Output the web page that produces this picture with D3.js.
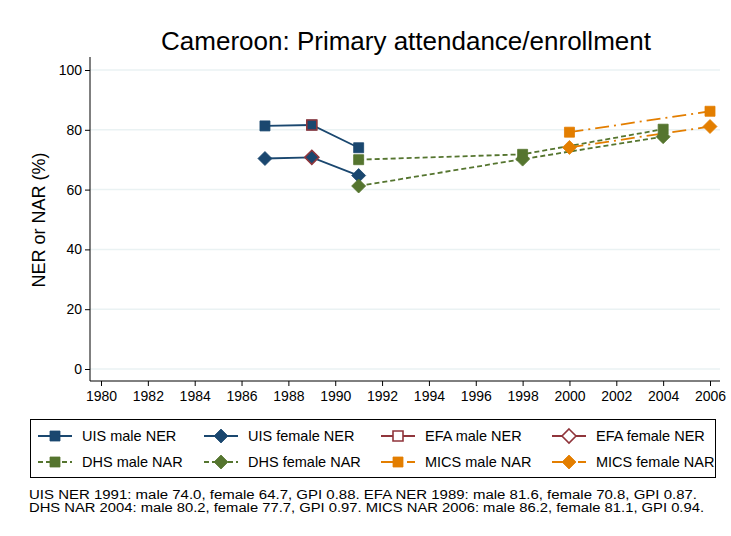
<!DOCTYPE html>
<html>
<head>
<meta charset="utf-8">
<script src="https://cdn.jsdelivr.net/npm/d3@7"></script>
<style>
  body { margin: 0; background: #fff; }
  svg { font-family: 'Liberation Sans', Arial, sans-serif; }
</style>
</head>
<body>
<script>
const years = [1980, 1982, 1984, 1986, 1988, 1990, 1992, 1994, 1996, 1998, 2000, 2002, 2004, 2006];
const yTicks = [0, 20, 40, 60, 80, 100];

// series values
const uisMale = [[1987, 81.3], [1989, 81.6], [1991, 74.0]];
const uisFemale = [[1987, 70.4], [1989, 70.8], [1991, 64.7]];
const efaMale = [[1989, 81.6]];
const efaFemale = [[1989, 70.8]];
const dhsMale = [[1991, 70.0], [1998, 71.8], [2004, 80.2]];
const dhsFemale = [[1991, 61.2], [1998, 70.2], [2004, 77.7]];
const micsMale = [[2000, 79.2], [2006, 86.2]];
const micsFemale = [[2000, 74.1], [2006, 81.1]];

const notes = [
  'UIS NER 1991: male 74.0, female 64.7, GPI 0.88. EFA NER 1989: male 81.6, female 70.8, GPI 0.87.',
  'DHS NAR 2004: male 80.2, female 77.7, GPI 0.97. MICS NAR 2006: male 86.2, female 81.1, GPI 0.94.',
];

const navy = '#1a476f';
const maroon = '#90353b';
const green = '#55752f';
const orange = '#e37e00';

const series = [
  { name: 'UIS male NER', data: uisMale, color: navy, dash: null, shape: 'square', hollow: false },
  { name: 'UIS female NER', data: uisFemale, color: navy, dash: null, shape: 'diamond', hollow: false },
  { name: 'EFA male NER', data: efaMale, color: maroon, dash: '12,4,2,4', shape: 'square', hollow: true },
  { name: 'EFA female NER', data: efaFemale, color: maroon, dash: '12,4,2,4', shape: 'diamond', hollow: true },
  { name: 'DHS male NAR', data: dhsMale, color: green, dash: '5,3', shape: 'square', hollow: false },
  { name: 'DHS female NAR', data: dhsFemale, color: green, dash: '5,3', shape: 'diamond', hollow: false },
  { name: 'MICS male NAR', data: micsMale, color: orange, dash: '14,5,2,5', shape: 'square', hollow: false },
  { name: 'MICS female NAR', data: micsFemale, color: orange, dash: '14,5,2,5', shape: 'diamond', hollow: false },
];

const W = 731, H = 536;
const plot = { left: 90, right: 720, top: 57, bottom: 381 };

const svg = d3.select('body').append('svg').attr('width', W).attr('height', H);

const x = d3.scaleLinear().domain([1980, 2006]).range([101, 710]);
const y = d3.scaleLinear().domain([0, 100]).range([369, 70]);

// title
svg.append('text')
  .attr('x', 406).attr('y', 50)
  .attr('text-anchor', 'middle')
  .style('font-size', '26px')
  .text('Cameroon: Primary attendance/enrollment');

// grid
svg.append('g')
  .selectAll('line')
  .data(yTicks)
  .enter()
  .append('line')
  .attr('x1', plot.left).attr('x2', plot.right)
  .attr('y1', (d) => y(d)).attr('y2', (d) => y(d))
  .attr('stroke', '#eaf2f3')
  .attr('stroke-width', 1.5);

// y axis
const yAxis = d3.axisLeft(y).tickValues(yTicks).tickSize(5).tickPadding(3);
const gy = svg.append('g')
  .attr('transform', `translate(${plot.left},0)`)
  .call(yAxis);
gy.select('.domain').remove();
gy.append('line')
  .attr('y1', plot.top).attr('y2', plot.bottom)
  .attr('stroke', '#000');
gy.selectAll('text').style('font-size', '14px').attr('fill', '#000');

// x axis
const xAxis = d3.axisBottom(x).tickValues(years).tickFormat(d3.format('d')).tickSize(5).tickPadding(5);
const gx = svg.append('g')
  .attr('transform', `translate(0,${plot.bottom})`)
  .call(xAxis);
gx.select('.domain').remove();
gx.append('line')
  .attr('x1', plot.left).attr('x2', plot.right)
  .attr('stroke', '#000');
gx.selectAll('text').style('font-size', '14px').attr('fill', '#000');

// y label
svg.append('text')
  .attr('transform', 'translate(45,220)rotate(-90)')
  .attr('text-anchor', 'middle')
  .style('font-size', '18px')
  .text('NER or NAR (%)');

const markerPath = (shape) =>
  shape === 'square' ? 'M-5,-5H5V5H-5Z' : 'M0,-7L7,0L0,7L-7,0Z';

const line = d3.line().x((d) => x(d[0])).y((d) => y(d[1]));

// lines
svg.append('g')
  .selectAll('path')
  .data(series)
  .enter()
  .append('path')
  .attr('d', (s) => line(s.data))
  .attr('fill', 'none')
  .attr('stroke', (s) => s.color)
  .attr('stroke-width', 1.8)
  .attr('stroke-dasharray', (s) => s.dash);

// markers
series.forEach((s) => {
  svg.append('g')
    .selectAll('path')
    .data(s.data)
    .enter()
    .append('path')
    .attr('transform', (d) => `translate(${x(d[0])},${y(d[1])})`)
    .attr('d', markerPath(s.shape))
    .attr('fill', s.hollow ? 'none' : s.color)
    .attr('stroke', s.color)
    .attr('stroke-width', s.hollow ? 1.6 : 0.8);
});

// legend
const legend = svg.append('g');
legend.append('rect')
  .attr('x', 30.5).attr('y', 419.5)
  .attr('width', 685).attr('height', 58)
  .attr('fill', '#fff').attr('stroke', '#000');

const colX = [38, 204, 381, 552];
const rowY = [436, 462];
series.forEach((s, k) => {
  const g = legend.append('g')
    .attr('transform', `translate(${colX[k % 4]},${rowY[Math.floor(k / 4)]})`);
  g.append('line')
    .attr('x1', 0).attr('x2', 34)
    .attr('stroke', s.color)
    .attr('stroke-width', 1.8)
    .attr('stroke-dasharray', s.dash);
  g.append('path')
    .attr('transform', 'translate(17,0)')
    .attr('d', markerPath(s.shape))
    .attr('fill', s.hollow ? '#fff' : s.color)
    .attr('stroke', s.color)
    .attr('stroke-width', s.hollow ? 1.6 : 0.8);
  g.append('text')
    .attr('x', 44).attr('y', 5)
    .style('font-size', '14.5px')
    .text(s.name);
});

// notes (stretched horizontally like the original)
const noteWidths = [668, 675];
svg.append('g')
  .selectAll('text')
  .data(notes)
  .enter()
  .append('text')
  .attr('x', 29)
  .attr('y', (d, i) => 499 + i * 13)
  .style('font-size', '12.5px')
  .attr('textLength', (d, i) => noteWidths[i])
  .attr('lengthAdjust', 'spacingAndGlyphs')
  .text((d) => d);
</script>
</body>
</html>
